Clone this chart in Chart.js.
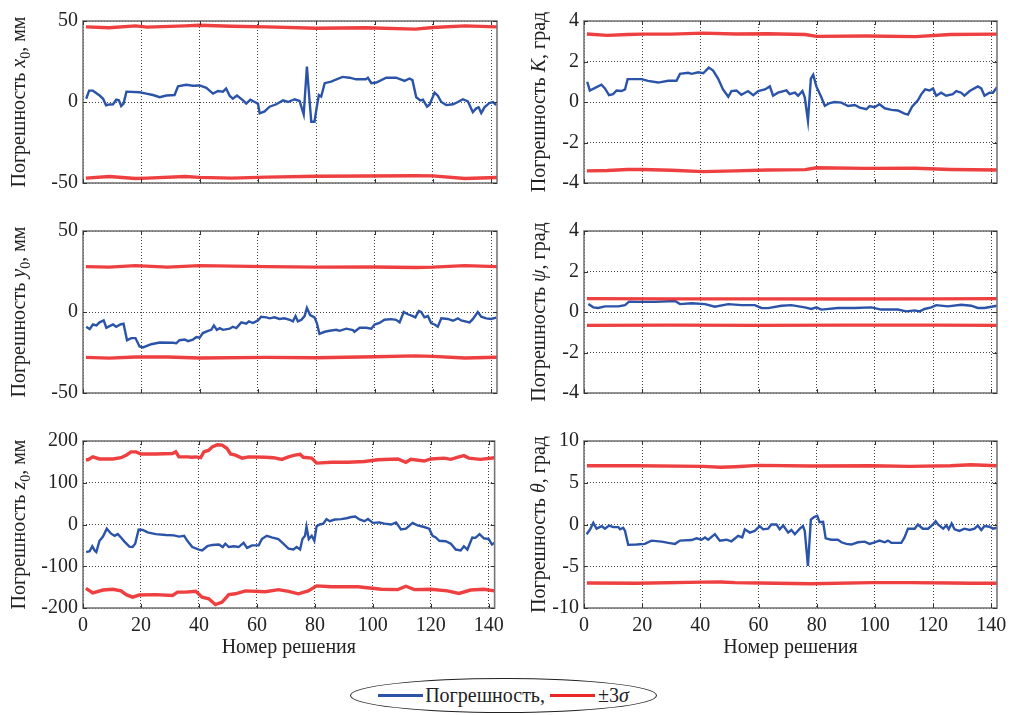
<!DOCTYPE html>
<html lang="ru">
<head>
<meta charset="utf-8">
<title>Погрешности решения</title>
<script src="https://cdn.jsdelivr.net/npm/chart.js@4.4.1/dist/chart.umd.min.js"></script>
<style>
html, body { margin: 0; padding: 0; background: #fff; }
body { width: 1015px; height: 715px; position: relative; overflow: hidden; font-family: 'Liberation Serif', 'Times New Roman', serif; }
canvas { position: absolute; }
#legend { position: absolute; left: 350px; top: 678px; width: 307px; height: 35px; box-sizing: border-box;
  border: 1.3px solid #222; border-radius: 50%; display: flex; align-items: center; justify-content: center;
  font-size: 20px; color: #222; white-space: nowrap; }
#legend .sw { display: inline-block; width: 45px; height: 3px; vertical-align: middle; }
</style>
</head>
<body>
<div id="legend">
  <span class="sw" style="background:#2b54a8;margin-right:2px"></span><span>Погрешность,</span>
  <span class="sw" style="background:#ec2626;margin:0 3px 0 5px"></span><span>±3<i>σ</i></span>
</div>
<script>
var xTickValues = [0, 20, 40, 60, 80, 100, 120, 140];

// x0, мм
var x0Ticks = [-50, 0, 50];
var x0N = [1.1,2.1,3.4,5.7,6.9,7.9,9.1,10.3,11.4,12.3,13.1,13.9,14.9,19.4,21.7,24,26.3,28.6,31.4,32.6,35.4,37.7,40,42.3,44.6,46.3,48,49.1,50.3,51.4,52.8,54.9,56,57.4,58.9,60,60.6,62.3,64,66.3,68.6,70.3,72.6,74.3,75.7,76.8,77.7,78.3,79.4,80.2,80.9,81.7,82.9,85.1,89,91.4,93.7,97,97.7,98.9,100.6,104,107.4,110.3,112,113,114.3,115.7,116.6,118,118.9,120.6,121.7,122.9,124.6,126.9,128.6,130.3,132,133.7,134.9,135.7,136.6,137.7,139.4,140.6,141.7];
var x0Err = [2,7,7,4,2,-2,-1.5,-1.4,1.4,1,-2.5,-1,6.4,6,5.2,4.3,3,4,4.3,9.7,10.6,10,10.2,8.7,5.2,6.8,6.4,8.3,3.9,2,4,1,-1,1.4,0,-1,-7,-5.8,-2.9,-1.4,1,0,1.7,0.6,-7.7,21.9,1,-12.2,-12.2,-2.9,4.3,3.3,11.6,12.6,15.5,15,14,14,15,11.6,12,15,15,13,14.5,13.5,2.9,1,1.5,-2.9,-1.5,5.8,3.9,0,-1.9,-1.4,0,1.7,0.4,-6.2,-3.9,-3.3,-6.8,-3.3,-0.6,0,-1.9];
var x0SigN = [1,9,18,22,35,40,51,63,80,97,114,120,131,142];
var x0SigHi = [46.4,45.8,47,46.2,47,47.4,46.8,46.4,45.5,45.8,45,46,47,46.4];
var x0SigLo = [-47,-46,-47.2,-47,-46,-46.5,-47,-46.4,-45.8,-45.7,-45.5,-45.6,-47.2,-46.6];

// K, град
var kTicks = [-4, -2, 0, 2, 4];
var kN = [1.1,2,3.8,6,7.2,8.6,10,11.2,12.9,14.1,15,19.8,22,25.5,29,31.8,33,35.8,37,39.3,41,42.9,44.4,46.1,47.8,49.6,50.7,52.4,54.1,56.4,58.2,59.9,62.2,63.9,65,66.7,69.6,70.7,72.5,73.6,75.1,75.9,77,78,78.8,79.9,81.6,82.8,84.5,86.2,88.5,90.8,93.1,94.8,97.1,98.2,99.9,101.6,103.4,105.7,107.9,110.2,111.4,112.8,114.8,116,117.3,118.8,120,121.1,122.8,124.5,126.8,128,129.7,130.8,132.6,135.4,136.6,137.7,139.4,140.6,142];
var kErr = [1.0,0.57,0.7,0.85,0.67,0.34,0.39,0.57,0.54,0.62,1.13,1.13,1.04,0.96,1.05,1.05,1.39,1.44,1.39,1.47,1.42,1.7,1.55,1.16,0.62,0.26,0.54,0.57,0.36,0.54,0.34,0.54,0.62,0.77,0.31,0.46,0.57,0.39,0.46,0.31,0.54,0.23,-0.93,1.16,1.35,0.77,0.23,-0.19,-0.05,0,-0.03,-0.2,-0.15,-0.28,-0.36,-0.2,-0.26,-0.11,-0.31,-0.39,-0.42,-0.57,-0.62,-0.23,0.08,0.39,0.62,0.57,0.67,0.31,0.46,0.31,0.39,0.54,0.46,0.31,0.54,0.77,0.67,0.31,0.46,0.46,0.73];
var kSigN = [1,8,15,20,30,41,52,63,76,80,97,114,126,142];
var kSigHi = [3.36,3.29,3.33,3.35,3.35,3.4,3.36,3.37,3.33,3.24,3.26,3.23,3.33,3.35];
var kSigLo = [-3.4,-3.38,-3.33,-3.33,-3.37,-3.44,-3.4,-3.36,-3.34,-3.25,-3.28,-3.27,-3.33,-3.36];

// y0, мм
var y0Ticks = [-50, 0, 50];
var y0N = [1.1,2.3,3.4,4.6,5.7,7.1,8,9.1,10.3,11.4,12.8,13.9,15.1,16.6,18,19.4,20.6,23.4,26.3,30.9,32,33.1,34.9,36,37.7,38.9,40,41.1,42.9,44,44.9,45.9,46.9,48,50.3,51.4,52.6,54.3,56,56.9,58.3,60,61.1,62.9,64,65.7,67.4,69.1,70.9,72,72.9,73.7,74.9,76,76.8,77.9,79.4,80.2,81.1,82.9,84.6,86.9,88,90.3,92.6,93.1,94.9,97.1,98.9,100,101.7,103.4,105.7,107.4,108.6,110,111.4,113.1,114,115.2,116,117.1,118.3,119.4,120.6,121.7,122.9,125.1,126.9,128.6,129.7,132.6,133.7,135.4,136.6,138.3,140,141.7];
var y0Err = [-9.1,-10.6,-7.7,-8.3,-6.4,-5.2,-9.7,-8.7,-7.7,-9.1,-7.7,-7.2,-17.4,-16.1,-16.1,-21.3,-21.9,-19.9,-18.8,-19,-19.3,-17.4,-17,-18,-17,-15.5,-15.9,-13,-11.6,-11,-8.3,-11,-10,-11,-10.3,-9.1,-9.9,-6.4,-7.2,-5.8,-6.8,-5.2,-2.9,-3.3,-3.9,-3.3,-4.3,-3.9,-4.8,-5.8,-2.5,-5.8,-4.8,-2.5,2.5,-1.9,-3.3,-6.8,-13.5,-12.2,-11.6,-11,-11.6,-10.3,-11.2,-12.2,-9.7,-9.7,-10.3,-7.7,-6.8,-4.8,-4.4,-4.8,-6.4,0,-1.4,-2.5,-3.3,0.6,0,-3.3,-2.5,-6.8,-7.7,-9.1,-3.9,-4.3,-5.4,-3.9,-5.2,-6.4,-4.4,0,-2.9,-3.9,-4.3,-3.5];
var y0SigN = [1,9,18,29,40,63,80,100,114,120,131,142];
var y0SigHi = [28,27.7,28.6,27.7,28.6,28,27.7,27.8,27.5,27.7,28.6,28];
var y0SigLo = [-28,-28.5,-27.8,-27.8,-28.4,-28,-28.2,-27.6,-27.1,-27.4,-28.4,-27.9];

// psi, град
var psiTicks = [-4, -2, 0, 2, 4];
var psiN = [1.5,3.2,4.9,7.2,11.8,14.1,15.5,18.7,24.4,31.3,33,37,41.6,45,49.6,54.1,58.7,61,63.3,67.9,71.3,75.9,78.2,79.9,81.6,87.3,93.1,98.8,102.2,107.9,110.8,113.7,115.4,117.1,119.4,121.1,125.1,129.7,133.1,135.4,137.7,142];
var psiErr = [0.39,0.23,0.2,0.28,0.28,0.34,0.51,0.5,0.5,0.54,0.39,0.43,0.39,0.26,0.39,0.34,0.34,0.2,0.19,0.31,0.34,0.23,0.15,0.23,0.12,0.2,0.2,0.23,0.12,0.12,0.03,0.08,0.03,0.15,0.23,0.34,0.28,0.36,0.31,0.2,0.2,0.31];
var psiSigN = [1,30,60,90,120,142];
var psiSigHi = [0.66,0.65,0.65,0.64,0.65,0.66];
var psiSigLo = [-0.66,-0.65,-0.66,-0.65,-0.65,-0.66];

// z0, мм
var z0Ticks = [-200, -100, 0, 100, 200];
var z0N = [1.1,2.3,3.2,4,4.6,5.7,6.9,8.2,9.7,10.9,12,13.1,14.3,16,17.1,18,19.2,20.6,22.3,25.1,28.6,31.4,33.1,34.9,36,37.7,40,41.1,42.9,44.6,46.9,48.2,49.1,50.3,52,53.7,55.4,56.6,58.3,60.6,61.7,63.4,65.1,67.4,69.1,70.9,72.6,73.7,74.9,75.7,76.6,77.1,77.9,78.9,79.8,80.6,81.7,82.9,84,85.1,86.9,89.1,90.9,92.6,93.9,95.4,97.1,98.3,100,102.3,104,106.3,108,109.7,111.4,113.7,115.4,117.7,119.4,120.6,121.7,122.9,125.1,126.9,128.6,130.3,131.4,132.6,134.3,135.4,136.8,138.3,140,141.1,141.9];
var z0Err = [-66,-64,-52,-62,-66,-39,-29,-10,-22,-27,-23,-31,-41,-53,-54,-46,-12,-13,-19,-23,-25,-26,-29,-27,-39,-54,-60,-62,-52,-49,-48,-54,-46,-54,-52,-54,-44,-56,-50,-50,-35,-27,-31,-35,-46,-58,-60,-54,-60,-35,-27,-5,-35,-27,-39,-4,0,2,13,8,12,13,15,18,19,12,8,13,4,5,2,0,5,-12,-10,4,-2,-6,-10,-27,-31,-39,-40,-46,-60,-62,-52,-60,-31,-32,-23,-33,-35,-48,-44];
var z0HiN = [1,1.7,3.4,5.7,10.3,13.1,14.9,16.6,18.3,20,25.1,30.9,32,33.1,36,37.7,38.9,40.6,41.7,43.4,44.6,46.3,48,49.7,50.9,52.6,54.9,57.1,62.9,65.7,68.6,70.9,73.1,74.9,76,78.9,80.6,85.7,91.4,97.1,101.7,108.6,111.4,113.1,117.7,120,124.6,126.9,129.1,131.4,133.1,137.1,142];
var z0Hi = [155,155,162,157,157,160,166,174,174,169,169,170,174,162,162,161,162,160,174,178,186,191,190,182,169,166,159,162,161,160,156,162,166,168,161,159,147,149,149,151,155,157,149,156,152,157,159,156,161,165,159,156,160];
var z0LoN = [1,3.4,6.9,10.3,13.1,14.9,17.1,19.4,25.1,30.9,32.6,35.4,38.9,41.1,43.4,45.7,48,50.3,52.6,56,62.9,67.4,70.9,74.3,77.7,80.6,85.7,94.9,102.9,108.6,111.4,114.3,120,125.7,129.7,133.7,138.3,142];
var z0Lo = [-153,-164,-157,-155,-159,-168,-174,-169,-168,-170,-162,-162,-160,-174,-178,-192,-186,-168,-166,-159,-161,-156,-160,-166,-159,-147,-149,-149,-155,-156,-148,-156,-155,-159,-165,-157,-155,-159];

// theta, град
var thTicks = [-10, -5, 0, 5, 10];
var thN = [0.9,2.1,3.2,4.3,6.1,7.2,8.6,10.1,11.8,12.4,13.5,14.1,15.2,18.1,20.9,23.2,26.7,29,31.3,33,37,38.7,40.4,41.6,42.7,45,46.7,49,50.7,53,54.4,55.3,57,58.7,60.4,61.6,63.3,64.4,66.2,67.3,68.5,70.2,71.3,72.5,74.2,75.3,75.9,77,78,79.1,80.2,81,82.2,83.1,85,87.3,88.5,90.2,91.9,94.2,96.5,98.2,99.9,101.6,103.4,104.5,105.7,109.1,110.2,111.4,113.7,114.8,116.5,118.3,120,120.9,121.7,123.5,124.6,125.4,126.4,127.4,129.1,130.8,132.6,134.3,135.4,136.6,137.7,139.4,140.6,142];
var thErr = [-1.16,-0.58,0.19,-0.5,-0.19,-0.5,-0.12,-0.31,-0.31,-0.58,-0.39,-0.77,-2.44,-2.4,-2.32,-1.93,-2.05,-2.2,-2.32,-1.93,-1.86,-1.66,-1.82,-1.55,-1.82,-1.16,-1.93,-1.82,-2.01,-1.35,-1.55,-0.58,-0.97,-0.77,-0.19,-0.58,-0.5,0,0,-0.58,-0.12,-0.97,-0.66,-1.16,-0.5,-0.19,-0.77,-4.95,0.58,0.89,1.04,0.27,0.31,-1.66,-1.82,-1.82,-2.13,-2.32,-2.4,-2.13,-2.05,-2.32,-2.13,-1.93,-2.13,-1.93,-2.2,-2.2,-1.55,-0.5,-0.5,0,-0.5,-0.5,0,0.39,0,-0.5,-0.12,-0.58,0.12,-0.58,-0.77,-0.5,-0.66,-0.5,-0.12,-0.66,-0.19,-0.27,-0.5,-0.39];
var thSigN = [1,18,41,47,52,60,78,99,112,126,133,142];
var thSigHi = [7.04,7.04,6.96,6.85,6.92,7.08,7.0,7.04,6.96,7.04,7.16,7.04];
var thSigLo = [-7.0,-7.04,-6.9,-6.89,-6.96,-7.0,-7.1,-6.96,-6.96,-7.0,-7.04,-7.04];

var FONT = "'Liberation Serif', 'Times New Roman', serif";
var INK = '#222';
var BLUE = '#2b54a8';
var RED = 'rgba(236,38,38,0.88)';

function pairs(xs, ys) {
  return xs.map(function(x, i) { return {x: x, y: ys[i]}; });
}

var panels = [
  {col: 0, row: 0, ticks: x0Ticks, title: [['Погрешность ', ''], ['x', 'i'], ['0', 'sub'], [', мм', '']],
   err: pairs(x0N, x0Err), hi: pairs(x0SigN, x0SigHi), lo: pairs(x0SigN, x0SigLo)},
  {col: 1, row: 0, ticks: kTicks, title: [['Погрешность ', ''], ['K', 'i'], [', град', '']],
   err: pairs(kN, kErr), hi: pairs(kSigN, kSigHi), lo: pairs(kSigN, kSigLo)},
  {col: 0, row: 1, ticks: y0Ticks, title: [['Погрешность ', ''], ['y', 'i'], ['0', 'sub'], [', мм', '']],
   err: pairs(y0N, y0Err), hi: pairs(y0SigN, y0SigHi), lo: pairs(y0SigN, y0SigLo)},
  {col: 1, row: 1, ticks: psiTicks, title: [['Погрешность ', ''], ['ψ', 'i'], [', град', '']],
   err: pairs(psiN, psiErr), hi: pairs(psiSigN, psiSigHi), lo: pairs(psiSigN, psiSigLo)},
  {col: 0, row: 2, ticks: z0Ticks, title: [['Погрешность ', ''], ['z', 'i'], ['0', 'sub'], [', мм', '']],
   err: pairs(z0N, z0Err), hi: pairs(z0HiN, z0Hi), lo: pairs(z0LoN, z0Lo)},
  {col: 1, row: 2, ticks: thTicks, title: [['Погрешность ', ''], ['θ', 'i'], [', град', '']],
   err: pairs(thN, thErr), hi: pairs(thSigN, thSigHi), lo: pairs(thSigN, thSigLo)}
];

// page geometry of the six axes boxes
var colLeft = [0, 505];
var colAxisW = [83, 79];
var colPadRight = [13, 18];
var colTitleX = [18, 33];
var rowTop = [16, 226, 436];
var plotH = 172;
var padTop = 12;

// rotated axis label with italic symbol and subscript
var yTitlePlugin = {
  id: 'yTitle',
  afterDraw: function(chart, args, opts) {
    var ctx = chart.ctx, a = chart.chartArea;
    var parts = opts.parts.map(function(p) {
      var f = p[1] === 'i' ? 'italic 20px ' + FONT : (p[1] === 'sub' ? '14px ' + FONT : '20px ' + FONT);
      return {text: p[0], font: f, dy: p[1] === 'sub' ? 5 : 0};
    });
    ctx.save();
    ctx.fillStyle = INK;
    ctx.textBaseline = 'alphabetic';
    ctx.translate(opts.x, (a.top + a.bottom) / 2);
    ctx.rotate(-Math.PI / 2);
    var total = 0;
    parts.forEach(function(p) { ctx.font = p.font; p.w = ctx.measureText(p.text).width; total += p.w; });
    var x = -total / 2;
    parts.forEach(function(p) { ctx.font = p.font; ctx.fillText(p.text, x, 7 + p.dy); x += p.w; });
    ctx.restore();
  }
};

// box around the axes plus small inward tick marks
var framePlugin = {
  id: 'frame',
  afterDraw: function(chart) {
    var ctx = chart.ctx, a = chart.chartArea;
    var xs = chart.scales.x, ys = chart.scales.y;
    ctx.save();
    ctx.strokeStyle = '#777';
    ctx.lineWidth = 1.6;
    ctx.strokeRect(a.left, a.top, a.right - a.left, a.bottom - a.top);
    ctx.strokeStyle = '#333';
    ctx.lineWidth = 1;
    ctx.beginPath();
    xs.ticks.forEach(function(t) {
      var px = Math.round(xs.getPixelForValue(t.value)) + 0.5;
      ctx.moveTo(px, a.bottom); ctx.lineTo(px, a.bottom - 4);
      ctx.moveTo(px, a.top); ctx.lineTo(px, a.top + 4);
    });
    ys.ticks.forEach(function(t) {
      var py = Math.round(ys.getPixelForValue(t.value)) + 0.5;
      ctx.moveTo(a.left, py); ctx.lineTo(a.left + 4, py);
      ctx.moveTo(a.right, py); ctx.lineTo(a.right - 4, py);
    });
    ctx.stroke();
    ctx.restore();
  }
};

panels.forEach(function(p) {
  var bottomRow = p.row === 2;
  var xAxisH = bottomRow ? 52 : 12;
  var cv = document.createElement('canvas');
  cv.width = 510;
  cv.height = padTop + plotH + xAxisH;
  cv.style.left = colLeft[p.col] + 'px';
  cv.style.top = (rowTop[p.row] - padTop) + 'px';
  document.body.appendChild(cv);

  var sigmaStyle = {borderColor: RED, borderWidth: 3.4, pointRadius: 0, tension: 0, fill: false};

  new Chart(cv, {
    type: 'line',
    data: {
      datasets: [
        Object.assign({label: '+3σ', data: p.hi}, sigmaStyle),
        Object.assign({label: '-3σ', data: p.lo}, sigmaStyle),
        {label: 'Погрешность', data: p.err, borderColor: BLUE, borderWidth: 2.4, pointRadius: 0, tension: 0, fill: false}
      ]
    },
    options: {
      responsive: false,
      animation: false,
      events: [],
      layout: {padding: {top: padTop, right: colPadRight[p.col], bottom: 0, left: 0}},
      plugins: {
        legend: {display: false},
        tooltip: {enabled: false},
        yTitle: {x: colTitleX[p.col], parts: p.title}
      },
      scales: {
        x: {
          type: 'linear', min: 0, max: 142,
          afterBuildTicks: function(s) { s.ticks = xTickValues.map(function(v) { return {value: v}; }); },
          afterFit: function(s) { s.height = xAxisH; },
          grid: {color: '#444', lineWidth: 1, drawTicks: false},
          border: {display: false, dash: [1, 2]},
          ticks: {display: bottomRow, color: INK, padding: 6, font: {family: FONT, size: 20},
                  maxRotation: 0, callback: function(v) { return String(v); }},
          title: {display: bottomRow, text: 'Номер решения', color: INK, font: {family: FONT, size: 20},
                  padding: {top: 0, bottom: 0}}
        },
        y: {
          type: 'linear', min: p.ticks[0], max: p.ticks[p.ticks.length - 1],
          afterBuildTicks: function(s) { s.ticks = p.ticks.map(function(v) { return {value: v}; }); },
          afterFit: function(s) { s.width = colAxisW[p.col]; },
          grid: {color: '#444', lineWidth: 1, drawTicks: false},
          border: {display: false, dash: [1, 2]},
          ticks: {color: INK, padding: 5, font: {family: FONT, size: 20},
                  callback: function(v) { return String(v); }}
        }
      }
    },
    plugins: [yTitlePlugin, framePlugin]
  });
});
</script>
</body>
</html>
